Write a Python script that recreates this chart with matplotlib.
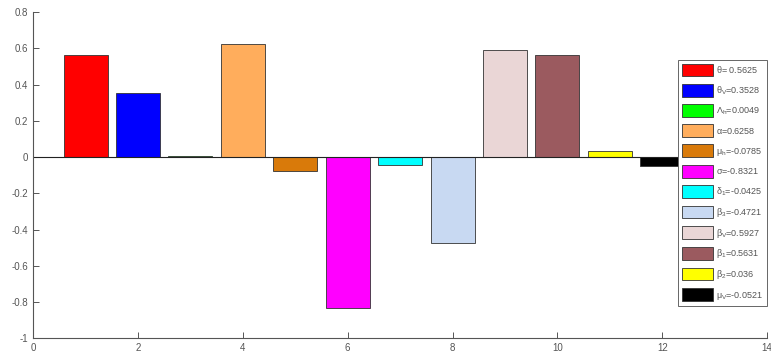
import numpy as np
import matplotlib
matplotlib.use("Agg")
import matplotlib.pyplot as plt

plt.rcParams['font.family'] = ['Liberation Sans', 'DejaVu Sans']
plt.rcParams['mathtext.default'] = 'regular'

# sensitivity indices of the parameters
params = [r'$\theta$= 0.5625', r'$\theta_V$=0.3528', r'$\Lambda_h$=0.0049',
          r'$\alpha$=0.6258', r'$\mu_h$=-0.0785', r'$\sigma$=-0.8321',
          r'$\delta_1$=-0.0425', r'$\beta_3$=-0.4721', r'$\beta_V$=0.5927',
          r'$\beta_1$=0.5631', r'$\beta_2$=0.036', r'$\mu_V$=-0.0521']
values = [0.5625, 0.3528, 0.0049, 0.6258, -0.0785, -0.8321,
          -0.0425, -0.4721, 0.5927, 0.5631, 0.036, -0.0521]
colors = ['#ff0000', '#0000ff', '#00ff00', '#ffad5c', '#d97a0a', '#ff00ff',
          '#00ffff', '#c8d9f2', '#ead6d6', '#9b5a5f', '#ffff00', '#000000']

fig = plt.figure(figsize=(7.71, 3.56), dpi=100)
ax = fig.add_axes([0.043, 0.05, 0.952, 0.916])

pos = np.arange(1, len(values) + 1)
for p, v, c, lab in zip(pos, values, colors, params):
    ax.bar(p, v, width=0.84, color=c, edgecolor='#333333', linewidth=0.6, label=lab)
ax.axhline(0, color='#222222', linewidth=0.8)

ax.set_xlim(0, 14)
ax.set_ylim(-1, 0.8)
ax.set_xticks(np.arange(0, 15, 2))
ax.set_yticks(np.arange(-1, 0.81, 0.2))
ax.set_yticklabels(['-1', '-0.8', '-0.6', '-0.4', '-0.2', '0', '0.2', '0.4', '0.6', '0.8'])
ax.tick_params(direction='in', labelsize=7, colors='#555555', length=4, width=0.7)
for s in ['top', 'right']:
    ax.spines[s].set_visible(False)
for s in ['left', 'bottom']:
    ax.spines[s].set_color('#555555')
    ax.spines[s].set_linewidth(0.8)

leg = ax.legend(loc='upper right', bbox_to_anchor=(1.006, 0.868), fontsize=6.5,
                frameon=True, fancybox=False, edgecolor='#666666', framealpha=1,
                handlelength=3.5, handleheight=1.8, labelspacing=0.82,
                borderpad=0.45, handletextpad=0.3, labelcolor='#555555')
leg.get_frame().set_linewidth(0.7)

fig.savefig('out.png', dpi=100)
